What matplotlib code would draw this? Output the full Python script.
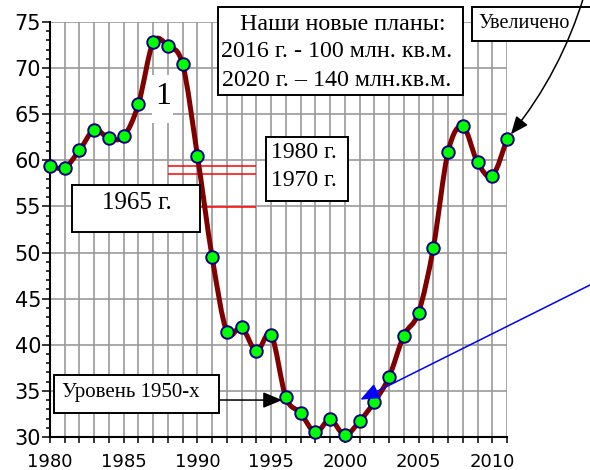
import numpy as np
import matplotlib
matplotlib.use('Agg')
import matplotlib.pyplot as plt
from matplotlib.path import Path
from matplotlib.patches import PathPatch, Rectangle, ConnectionPatch
from matplotlib.ticker import MultipleLocator

# data
years = list(range(1980, 2012))
values = [59.4, 59.2, 61.1, 63.3, 62.4, 62.6, 66.1, 72.8, 72.4, 70.4,
          60.5, 49.5, 41.4, 41.9, 39.3, 41.1, 34.3, 32.6, 30.5, 31.9,
          30.2, 31.7, 33.8, 36.5, 41.0, 43.5, 50.5, 60.9, 63.7, 59.8,
          58.3, 62.3]
ref_levels = [59.4, 58.5, 54.9]   # 1980 г., 1970 г., 1965 г.
ref_span = (1988, 1994)
x_ticks = [1980, 1985, 1990, 1995, 2000, 2005, 2010]
y_ticks = [30, 35, 40, 45, 50, 55, 60, 65, 70, 75]

W, H = 590, 470
serif = 'Liberation Serif'
sans = 'DejaVu Sans'

fig = plt.figure(figsize=(W / 100, H / 100), dpi=100)
ax = fig.add_axes([50 / W, 33 / H, 457 / W, 415 / H])


def smooth_path(xs, ys):
    # bezier smoothing like the spreadsheet "smoothed line"
    pts = np.column_stack([xs, ys]).astype(float)
    n = len(pts)
    verts = [pts[0]]
    codes = [Path.MOVETO]
    for i in range(n - 1):
        p0 = pts[i - 1] if i > 0 else pts[i]
        p1 = pts[i]
        p2 = pts[i + 1]
        p3 = pts[i + 2] if i + 2 < n else pts[i + 1]
        verts += [p1 + (p2 - p0) / 6, p2 - (p3 - p1) / 6, p2]
        codes += [Path.CURVE4] * 3
    return Path(verts, codes)


ax.hlines(ref_levels, ref_span[0], ref_span[1], color='red', lw=1.1, zorder=2)

curve = PathPatch(smooth_path(years, values), facecolor='none', edgecolor='#800000',
                  lw=3.6, capstyle='round', joinstyle='round', zorder=3, clip_on=False)
ax.add_patch(curve)
ax.plot(years, values, ls='none', marker='o', ms=9, mfc='#00ff00', mec='#000080',
        mew=1.4, zorder=4, clip_on=False)

ax.set_xlim(1980, 2011)
ax.set_ylim(30, 75)
ax.set_xticks(x_ticks)
ax.xaxis.set_minor_locator(MultipleLocator(1))
ax.set_yticks(y_ticks)
ax.yaxis.set_minor_locator(MultipleLocator(1))
ax.grid(True, which='major', axis='y', color='#999999', lw=1.2)
ax.grid(True, which='both', axis='x', color='#999999', lw=1.2)
ax.set_axisbelow(True)
for s in ['top', 'right']:
    ax.spines[s].set_visible(False)
for s in ['left', 'bottom']:
    ax.spines[s].set_linewidth(1.5)
ax.tick_params(axis='x', which='both', direction='out', length=4.3, width=1.1, pad=7.3)
ax.tick_params(axis='y', which='major', direction='out', length=5.8, width=1.1, pad=0.5)
ax.tick_params(axis='y', which='minor', direction='out', length=2.9, width=1.1)
for lab in ax.get_xticklabels():
    lab.set_fontfamily(sans)
    lab.set_fontsize(13)
for lab in ax.get_yticklabels():
    lab.set_fontfamily(sans)
    lab.set_fontsize(15)


def box(x0, y0, x1, y1, lw=1.4, ec='black', z=5):
    # pixel box, top-left origin
    r = Rectangle((x0 / W, 1 - y1 / H), (x1 - x0) / W, (y1 - y0) / H,
                  transform=fig.transFigure, facecolor='white', edgecolor=ec,
                  lw=lw, zorder=z)
    fig.patches.append(r)


def label(x, y, s, size, ha='center'):
    fig.text(x / W, 1 - y / H, s, ha=ha, va='center', fontsize=size,
             fontfamily=serif, zorder=6)


box(218, 7, 463, 95)
label(343, 25, 'Наши новые планы:', 17.3)
label(337, 52, '2016 г. - 100 млн. кв.м.', 17.3)
label(337, 80, '2020 г. – 140 млн.кв.м.', 17.3)

box(472, 7, 600, 41)
label(478, 24, 'Увеличено', 14.5, ha='left')

box(266, 137, 348, 201)
label(304, 152, '1980 г.', 17)
label(304, 180, '1970 г.', 17)

box(72, 185, 200, 232)
label(137, 203, '1965 г.', 18)

box(54, 375, 219, 413)
label(62, 392, 'Уровень 1950-х', 15, ha='left')

box(152, 75, 173, 123, lw=0, ec='none', z=3.5)
label(163, 97, '1', 23)

# curved arrow drawn over the boxes
arr = ConnectionPatch(xyA=(584, 474), coordsA='figure pixels',
                      xyB=(years[-1], values[-1]), coordsB='data', axesB=ax,
                      arrowstyle='-|>,head_length=0.6,head_width=0.25',
                      mutation_scale=18, connectionstyle='arc3,rad=-0.1',
                      color='black', lw=1.1, shrinkA=0, shrinkB=4.5, zorder=8)
fig.add_artist(arr)

ax.annotate('', xy=(1995.75, 34.0), xycoords='data',
            xytext=(219, 70), textcoords='figure pixels',
            arrowprops=dict(arrowstyle='-|>,head_length=0.65,head_width=0.27',
                            mutation_scale=18, color='black', lw=1.1,
                            shrinkA=0, shrinkB=0),
            annotation_clip=False, zorder=7)

ax.annotate('', xy=(2001.05, 34.05), xycoords='data',
            xytext=(600, 190), textcoords='figure pixels',
            arrowprops=dict(arrowstyle='-|>,head_length=0.65,head_width=0.27',
                            mutation_scale=18, color='blue', lw=1.1,
                            shrinkA=0, shrinkB=0),
            annotation_clip=False, zorder=7)

fig.savefig('out.png', dpi=100)
